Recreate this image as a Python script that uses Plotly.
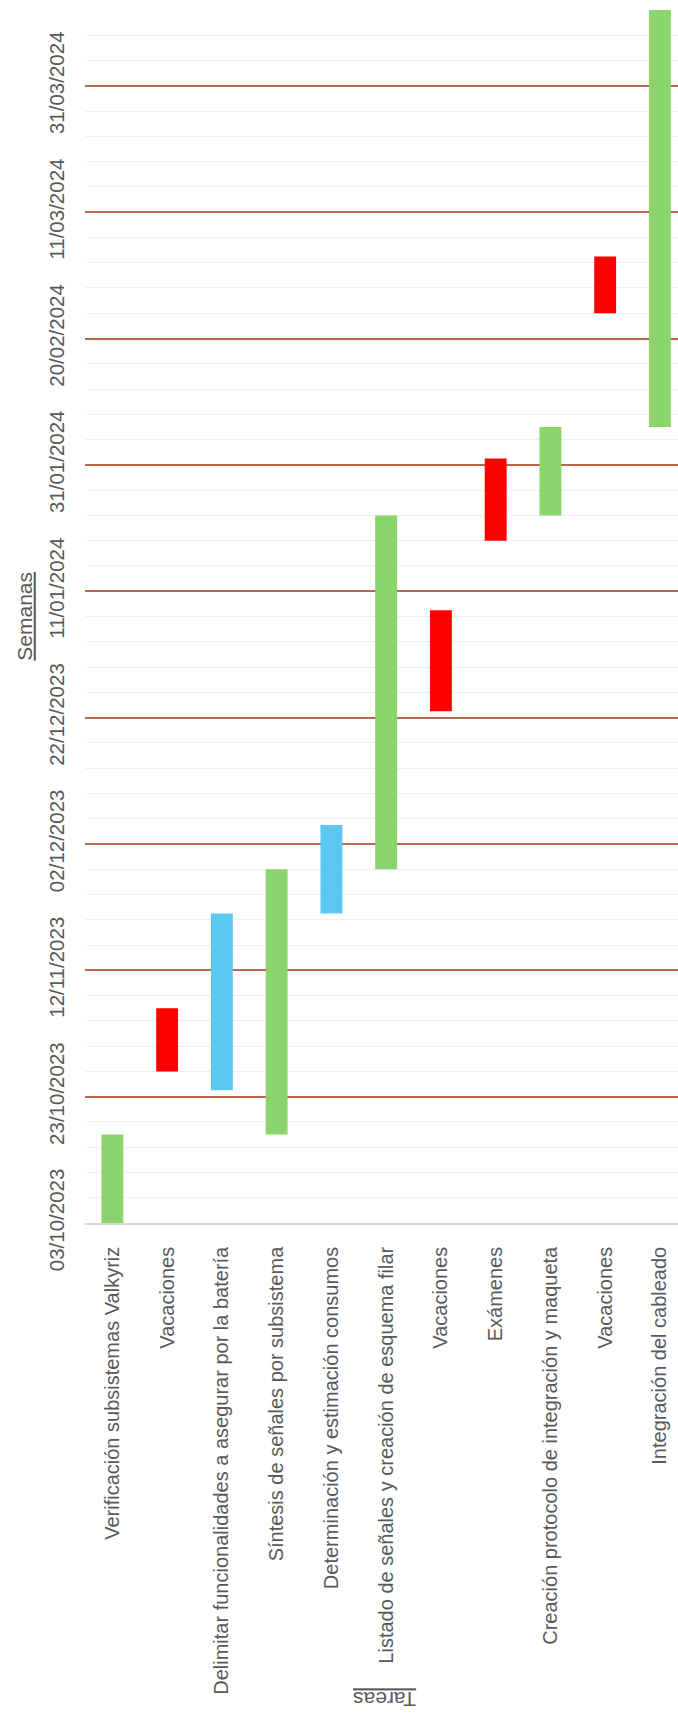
import plotly.graph_objects as go
import pandas as pd

tasks = [
    "Verificación subsistemas Valkyriz",
    "Vacaciones",
    "Delimitar funcionalidades a asegurar por la batería",
    "Síntesis de señales por subsistema",
    "Determinación y estimación consumos",
    "Listado de señales y creación de esquema filar",
    "Vacaciones",
    "Exámenes",
    "Creación protocolo de integración y maqueta",
    "Vacaciones",
    "Integración del cableado",
]
starts = ["2023-10-03", "2023-10-27", "2023-10-24", "2023-10-17", "2023-11-21",
          "2023-11-28", "2023-12-23", "2024-01-19", "2024-01-23", "2024-02-24",
          "2024-02-06"]
ends = ["2023-10-17", "2023-11-06", "2023-11-21", "2023-11-28", "2023-12-05",
        "2024-01-23", "2024-01-08", "2024-02-01", "2024-02-06", "2024-03-04",
        "2024-04-12"]
kinds = ["trabajo", "vacaciones", "analisis", "trabajo", "analisis",
         "trabajo", "vacaciones", "vacaciones", "trabajo", "vacaciones", "trabajo"]
kind_colors = {"trabajo": "#8CD46C", "vacaciones": "#FF0000", "analisis": "#5BC8F2"}

axis_start = "2023-10-03"
axis_end = "2024-04-12"

s = pd.to_datetime(starts)
e = pd.to_datetime(ends)
dur_ms = [(b - a).total_seconds() * 1000 for a, b in zip(s, e)]
xpos = list(range(len(tasks)))

FONT = "Liberation Sans, Arial, sans-serif"
GRAY = "#595959"
DAY = 86400000

fig = go.Figure()
fig.add_trace(go.Bar(
    x=xpos,
    y=dur_ms,
    base=starts,
    width=0.4,
    marker=dict(color=[kind_colors[k] for k in kinds], line=dict(width=0)),
    hovertext=tasks,
    showlegend=False,
))

fig.update_layout(
    width=678, height=1724,
    margin=dict(l=85, r=0, t=10, b=501),
    plot_bgcolor="white", paper_bgcolor="white",
    font=dict(family=FONT, color=GRAY),
    bargap=0.6,
    xaxis=dict(
        tickmode="array", tickvals=xpos, ticktext=tasks,
        tickangle=-90, range=[-0.5, 10.33],
        tickfont=dict(size=20, color=GRAY, family=FONT),
        showgrid=False, zeroline=False,
        showline=True, linecolor="#D9D9D9", linewidth=1.5,
        ticks="", ticklabelstandoff=14,
    ),
    yaxis=dict(
        type="date", range=[axis_start, axis_end],
        tick0=axis_start, dtick=20 * DAY, tickformat="%d/%m/%Y",
        tickangle=-90,
        tickfont=dict(size=20.5, color=GRAY, family=FONT),
        showgrid=True, gridcolor="#B4674A", gridwidth=1.5,
        minor=dict(tick0=axis_start, dtick=4 * DAY, showgrid=True,
                   gridcolor="#EFEFEF", gridwidth=1),
        zeroline=False, showline=False, ticks="",
        ticklabelstandoff=16,
    ),
)

fig.add_annotation(
    text="<u>Semanas</u>", textangle=-90, xref="paper", yref="paper",
    x=-0.1025, y=0.5, xanchor="center", yanchor="middle", showarrow=False,
    font=dict(size=21, color=GRAY, family=FONT),
)
fig.add_annotation(
    text="<u>Tareas</u>", textangle=180, xref="paper", yref="paper",
    x=0.506, y=-0.393, xanchor="center", yanchor="middle", showarrow=False,
    font=dict(size=21, color=GRAY, family=FONT),
)

fig.write_html("out.html")
